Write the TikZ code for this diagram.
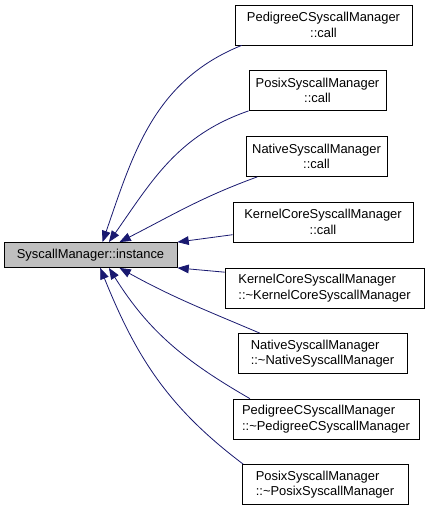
\documentclass[tikz,border=0pt]{standalone}
\usepackage{fontspec}
\setmainfont{Liberation Sans}
\usetikzlibrary{arrows.meta}
\definecolor{midnightblue}{HTML}{191970}
\definecolor{nodegray}{HTML}{BFBFBF}
\newlength{\px}
\setlength{\px}{0.75pt}
\begin{document}
\begin{tikzpicture}[x=0.75pt, y=-0.75pt,
    box/.style={draw=black, line width=0.6pt, fill=white, minimum height=40\px, inner sep=0pt,
        font=\fontsize{9.7}{11.5}\selectfont},
    callarrow/.style={draw=midnightblue, line width=0.6pt, -{Triangle[length=8.5pt,width=6.5pt]}}]
    \useasboundingbox (0,0) rectangle (427,509);

    % the function itself
    \node[box, fill=nodegray, minimum width=173\px, minimum height=25\px] (main) at (90.5,255) {SyscallManager::instance};

    % its callers
    \node[box, minimum width=177\px, align=center] (pedcall) at (323.5,25) {PedigreeCSyscallManager\\::call};
    \node[box, minimum width=137\px, align=center] (posixcall) at (317.5,90.5) {PosixSyscallManager\\::call};
    \node[box, minimum width=141\px, align=center] (nativecall) at (316.5,156.5) {NativeSyscallManager\\::call};
    \node[box, minimum width=180\px, align=center] (kccall) at (323,222) {KernelCoreSyscallManager\\::call};
    \node[box, minimum width=199\px, align=left] (kcdtor) at (324.5,288) {KernelCoreSyscallManager\\::\textasciitilde KernelCoreSyscallManager};
    \node[box, minimum width=169\px, align=left] (nativedtor) at (322.5,353.5) {NativeSyscallManager\\::\textasciitilde NativeSyscallManager};
    \node[box, minimum width=186\px, align=left] (peddtor) at (326,419) {PedigreeCSyscallManager\\::\textasciitilde PedigreeCSyscallManager};
    \node[box, minimum width=166\px, align=left] (posixdtor) at (325,484.5) {PosixSyscallManager\\::\textasciitilde PosixSyscallManager};

    % calls
    \draw[callarrow] (pedcall.194) to[out=202, in=71] (main.47);
    \draw[callarrow] (posixcall.south west) to[out=199, in=55] (main.35);
    \draw[callarrow] (nativecall.199) to[out=200, in=27] (main.24);
    \draw[callarrow] (kccall.188) -- (main.north east);
    \draw[callarrow] (kcdtor.171) -- (main.south east);
    \draw[callarrow] (nativedtor.162) to[out=157, in=-29] (main.-24);
    \draw[callarrow] (peddtor.165) to[out=150, in=-58] (main.-35);
    \draw[callarrow] (posixdtor.166) to[out=143, in=-68] (main.-53);
\end{tikzpicture}
\end{document}
